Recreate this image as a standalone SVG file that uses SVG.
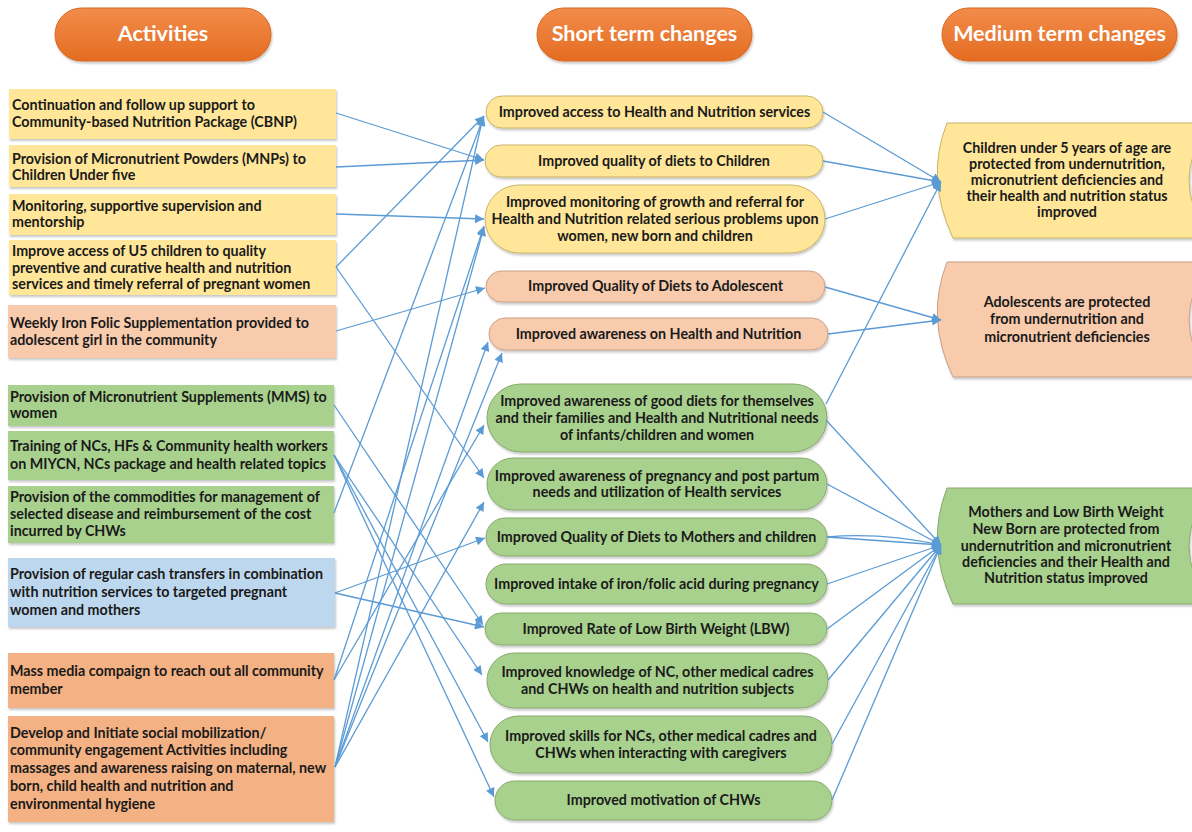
<svg xmlns="http://www.w3.org/2000/svg" width="1192" height="832" viewBox="0 0 1192 832">
<defs>
<linearGradient id="hdr" x1="0" y1="0" x2="0" y2="1"><stop offset="0" stop-color="#F28C4A"/><stop offset="1" stop-color="#E46C22"/></linearGradient>
<filter id="sh" x="-5%" y="-10%" width="110%" height="130%"><feDropShadow dx="1" dy="2" stdDeviation="1.2" flood-color="#000" flood-opacity="0.22"/></filter>
<marker id="ah" viewBox="0 0 10 10" refX="10" refY="5" markerWidth="11" markerHeight="9" markerUnits="userSpaceOnUse" orient="auto"><path d="M0,0 L10,5 L0,10 Z" fill="#5B9BD5"/></marker>
<style>
.hdr{fill:url(#hdr);stroke:#D9661F;stroke-width:1;filter:url(#sh)}
.ht{font-family:Lato,"Open Sans",sans-serif;font-weight:bold;font-size:21.5px;fill:#fff;text-anchor:middle}
.t{font-family:Lato,"Open Sans",sans-serif;font-weight:bold;font-size:14.3px;fill:#1a1a1a}
.c{text-anchor:middle}
.y{fill:#FFE699}
.p{fill:#F8CBAD}
.g{fill:#A9D18E}
.b{fill:#BDD7EE}
.o{fill:#F4B183}
.box{filter:url(#sh)}
.py{fill:#FFE699;stroke:#C8B466;stroke-width:1;filter:url(#sh)}
.pp{fill:#F8CBAD;stroke:#C9A088;stroke-width:1;filter:url(#sh)}
.pg{fill:#A9D18E;stroke:#86A96C;stroke-width:1;filter:url(#sh)}
.cn line,.cn path{stroke:#5B9BD5;stroke-width:1.3;fill:none;marker-end:url(#ah)}
</style>
</defs>
<rect width="1192" height="832" fill="#fff"/>

<g id="hdr-activities"><rect class="hdr" x="55" y="8" width="216" height="53" rx="26.5"/><text class="ht" x="163" y="41">Activities</text></g>
<g id="hdr-short"><rect class="hdr" x="537" y="8" width="215" height="53" rx="26.5"/><text class="ht" x="644.5" y="41">Short term changes</text></g>
<g id="hdr-medium"><rect class="hdr" x="942" y="8" width="235" height="53" rx="26.5"/><text class="ht" x="1059.5" y="41">Medium term changes</text></g>

<!-- Activities -->
<g id="a1"><rect class="box y" x="9" y="89" width="327" height="50"/><text class="t" x="12" y="110">Continuation and follow up support to</text><text class="t" x="12" y="127">Community-based Nutrition Package (CBNP)</text></g>
<g id="a2"><rect class="box y" x="9" y="145" width="327" height="42"/><text class="t" x="12" y="164">Provision of Micronutrient Powders (MNPs) to</text><text class="t" x="12" y="180">Children Under five</text></g>
<g id="a3"><rect class="box y" x="9" y="194" width="327" height="41"/><text class="t" x="12" y="211">Monitoring, supportive supervision and</text><text class="t" x="12" y="227">mentorship</text></g>
<g id="a4"><rect class="box y" x="9" y="240" width="327" height="55"/><text class="t" x="12" y="256">Improve access of U5 children to quality</text><text class="t" x="12" y="273">preventive and curative health and nutrition</text><text class="t" x="12" y="289">services and timely referral of pregnant women</text></g>
<g id="a5"><rect class="box p" x="8" y="305" width="328" height="53"/><text class="t" x="10" y="328">Weekly Iron Folic Supplementation provided to</text><text class="t" x="10" y="345">adolescent girl in the community</text></g>
<g id="a6"><rect class="box g" x="8" y="385" width="326" height="41"/><text class="t" x="10" y="402">Provision of Micronutrient Supplements (MMS) to</text><text class="t" x="10" y="418">women</text></g>
<g id="a7"><rect class="box g" x="8" y="431" width="326" height="49"/><text class="t" x="10" y="451">Training of NCs, HFs &amp; Community health workers</text><text class="t" x="10" y="469">on MIYCN, NCs package and health related topics</text></g>
<g id="a8"><rect class="box g" x="8" y="486" width="326" height="57"/><text class="t" x="10" y="502">Provision of the commodities for management of</text><text class="t" x="10" y="519">selected disease and reimbursement of the cost</text><text class="t" x="10" y="536">incurred by CHWs</text></g>
<g id="a9"><rect class="box b" x="8" y="558" width="327" height="69"/><text class="t" x="10" y="579">Provision of regular cash transfers in combination</text><text class="t" x="10" y="597">with nutrition services to targeted pregnant</text><text class="t" x="10" y="615">women and mothers</text></g>
<g id="a10"><rect class="box o" x="8" y="653" width="326" height="55"/><text class="t" x="10" y="676">Mass media compaign to reach out all community</text><text class="t" x="10" y="694">member</text></g>
<g id="a11"><rect class="box o" x="8" y="716" width="326" height="106"/><text class="t" x="10" y="738">Develop and Initiate social mobilization/</text><text class="t" x="10" y="755">community engagement Activities including</text><text class="t" x="10" y="773">massages and awareness raising on maternal, new</text><text class="t" x="10" y="791">born, child health and nutrition and</text><text class="t" x="10" y="809">environmental hygiene</text></g>

<!-- Short term -->
<g id="s1"><rect class="py" x="486" y="96" width="337" height="32" rx="16"/><text class="t c" x="654.5" y="117">Improved access to Health and Nutrition services</text></g>
<g id="s2"><rect class="py" x="485" y="145" width="338" height="32" rx="16"/><text class="t c" x="654" y="166">Improved quality of diets to Children</text></g>
<g id="s3"><rect class="py" x="485" y="185" width="340" height="68" rx="34"/><text class="t c" x="655" y="207">Improved monitoring of growth and referral for</text><text class="t c" x="655" y="224">Health and Nutrition related serious problems upon</text><text class="t c" x="655" y="241">women, new born and children</text></g>
<g id="s4"><rect class="pp" x="486" y="271" width="339" height="31" rx="15.5"/><text class="t c" x="655.5" y="291">Improved Quality of Diets to Adolescent</text></g>
<g id="s5"><rect class="pp" x="489" y="318" width="339" height="32" rx="16"/><text class="t c" x="658.5" y="339">Improved awareness on Health and Nutrition</text></g>
<g id="s6"><rect class="pg" x="487" y="384" width="340" height="68" rx="34"/><text class="t c" x="657" y="406">Improved awareness of good diets for themselves</text><text class="t c" x="657" y="423">and their families and Health and Nutritional needs</text><text class="t c" x="657" y="440">of infants/children and women</text></g>
<g id="s7"><rect class="pg" x="487" y="458" width="340" height="52" rx="26"/><text class="t c" x="657" y="481">Improved awareness of pregnancy and post partum</text><text class="t c" x="657" y="497">needs and utilization of Health services</text></g>
<g id="s8"><rect class="pg" x="486" y="518" width="341" height="38" rx="19"/><text class="t c" x="656.5" y="542">Improved Quality of Diets to Mothers and children</text></g>
<g id="s9"><rect class="pg" x="486" y="564" width="341" height="40" rx="20"/><text class="t c" x="656.5" y="589">Improved intake of iron/folic acid during pregnancy</text></g>
<g id="s10"><rect class="pg" x="485" y="613" width="342" height="32" rx="16"/><text class="t c" x="656" y="634">Improved Rate of Low Birth Weight (LBW)</text></g>
<g id="s11"><rect class="pg" x="487" y="653" width="341" height="55" rx="27.5"/><text class="t c" x="657.5" y="677">Improved knowledge of NC, other medical cadres</text><text class="t c" x="657.5" y="694">and CHWs on health and nutrition subjects</text></g>
<g id="s12"><rect class="pg" x="490" y="716" width="342" height="57" rx="28.5"/><text class="t c" x="661" y="741">Improved skills for NCs, other medical cadres and</text><text class="t c" x="661" y="758">CHWs when interacting with caregivers</text></g>
<g id="s13"><rect class="pg" x="495" y="781" width="337" height="39" rx="19.5"/><text class="t c" x="663.5" y="805">Improved motivation of CHWs</text></g>

<!-- Medium term -->
<g id="m1"><path class="py" d="M947,123 L1210,123 Q1168,180 1210,238 L953,238 Q925,178 947,123 Z"/><text class="t c" x="1067" y="153">Children under 5 years of age are</text><text class="t c" x="1067" y="169">protected from undernutrition,</text><text class="t c" x="1067" y="185">micronutrient deficiencies and</text><text class="t c" x="1067" y="201">their health and nutrition status</text><text class="t c" x="1067" y="217">improved</text></g>
<g id="m2"><path class="pp" d="M947,262 L1210,262 Q1168,320 1210,377 L953,377 Q925,318 947,262 Z"/><text class="t c" x="1067" y="307">Adolescents are protected</text><text class="t c" x="1067" y="324">from undernutrition and</text><text class="t c" x="1067" y="342">micronutrient deficiencies</text></g>
<g id="m3"><path class="pg" d="M947,488 L1210,488 Q1168,546 1210,604 L953,604 Q925,544 947,488 Z"/><text class="t c" x="1066" y="517">Mothers and Low Birth Weight</text><text class="t c" x="1066" y="534">New Born are protected from</text><text class="t c" x="1066" y="551">undernutrition and micronutrient</text><text class="t c" x="1066" y="567">deficiencies and their Health and</text><text class="t c" x="1066" y="583">Nutrition status improved</text></g>

<g id="connectors" class="cn">
<line x1="336" y1="113" x2="484" y2="160"/>
<line x1="336" y1="167" x2="484" y2="160"/>
<line x1="336" y1="214" x2="484" y2="219"/>
<line x1="336" y1="267" x2="484" y2="116"/>
<line x1="336" y1="267" x2="484" y2="478"/>
<line x1="336" y1="331" x2="485" y2="288"/>
<line x1="334" y1="405" x2="483" y2="625"/>
<line x1="334" y1="455" x2="482" y2="675"/>
<line x1="334" y1="455" x2="488" y2="742"/>
<line x1="334" y1="455" x2="494" y2="797"/>
<line x1="334" y1="513" x2="484" y2="116"/>
<line x1="335" y1="593" x2="485" y2="538"/>
<line x1="335" y1="593" x2="484" y2="627"/>
<line x1="334" y1="680" x2="484" y2="226"/>
<line x1="334" y1="680" x2="484" y2="425"/>
<line x1="335" y1="767" x2="483" y2="117"/>
<line x1="335" y1="767" x2="484" y2="227"/>
<line x1="335" y1="767" x2="488" y2="342"/>
<line x1="335" y1="767" x2="502" y2="353"/>
<line x1="335" y1="767" x2="484" y2="502"/>

<line x1="823" y1="112" x2="941" y2="182"/>
<line x1="823" y1="161" x2="941" y2="182"/>
<line x1="825" y1="219" x2="941" y2="182"/>
<line x1="826" y1="404" x2="941" y2="182"/>
<line x1="825" y1="287" x2="941" y2="320"/>
<line x1="828" y1="334" x2="941" y2="320"/>
<line x1="826" y1="420" x2="941" y2="545"/>
<line x1="827" y1="484" x2="941" y2="545"/>
<path d="M827,537 Q880,532 941,545"/>
<line x1="827" y1="537" x2="941" y2="545"/>
<line x1="827" y1="584" x2="941" y2="545"/>
<line x1="827" y1="629" x2="941" y2="545"/>
<line x1="828" y1="680" x2="941" y2="545"/>
<line x1="832" y1="744" x2="941" y2="545"/>
<line x1="832" y1="800" x2="941" y2="545"/>
</g>
</svg>
